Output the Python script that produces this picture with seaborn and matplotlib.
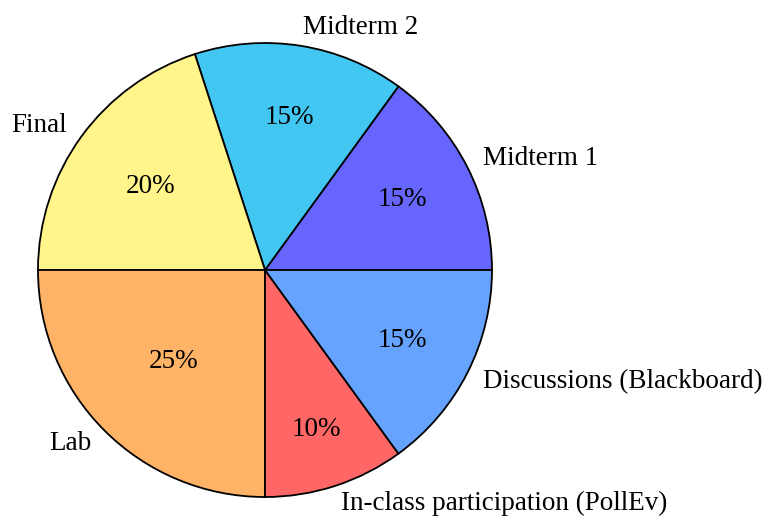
import numpy as np
import matplotlib
matplotlib.use("Agg")
import matplotlib.pyplot as plt
import seaborn as sns

# grade breakdown (counter-clockwise from 3 o'clock)
labels = ["Midterm 1", "Midterm 2", "Final", "Lab",
          "In-class participation (PollEv)", "Discussions (Blackboard)"]
shares = [15, 15, 20, 25, 10, 15]
colors = ["#6666FF", "#42C6F2", "#FFF58A", "#FFB366", "#FF6666", "#66A3FF"]

sns.set_theme(style="white")
plt.rcParams["font.family"] = ["Liberation Serif", "DejaVu Serif"]

fig = plt.figure(figsize=(7.77, 5.23), dpi=100)
ax = fig.add_axes([38 / 777, 26 / 523, 454 / 777, 454 / 523])

wedges, texts, autotexts = ax.pie(
    shares, labels=labels, colors=sns.color_palette(colors),
    startangle=0, counterclock=True, autopct="%d%%",
    labeldistance=1.08, pctdistance=0.67,
    wedgeprops=dict(edgecolor="black", linewidth=1.3),
    textprops=dict(fontsize=19.5, color="black"),
)

# pgf-pie style: small slices put the number further out
for w, t, s in zip(wedges, autotexts, shares):
    mid = np.deg2rad((w.theta1 + w.theta2) / 2)
    d = 0.85 - 0.0113 * s
    t.set_position((d * np.cos(mid), d * np.sin(mid)))

ax.set_xlim(-1, 1)
ax.set_ylim(-1, 1)
ax.set_aspect("equal")

fig.savefig("out.png", dpi=100)
